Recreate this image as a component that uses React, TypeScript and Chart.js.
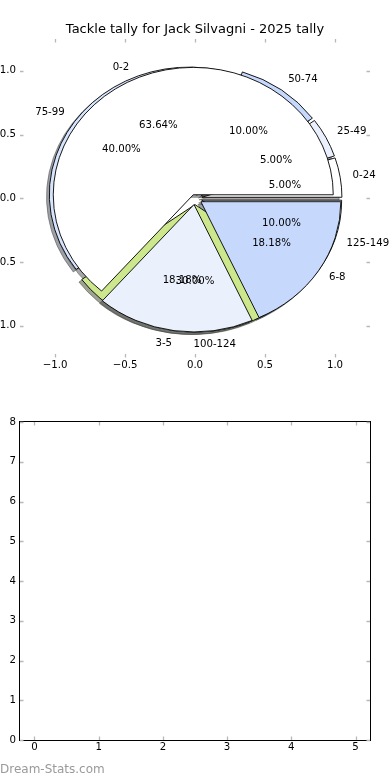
import React, { useEffect, useRef } from "react";
import { Chart, registerables } from "chart.js";

Chart.register(...registerables);

const FONT = "'DejaVu Sans', sans-serif";

const TITLE = "Tackle tally for Jack Silvagni - 2025 tally";
const WATERMARK = "Dream-Stats.com";

// Inner pie (drawn on top)
const INNER_LABELS = ["0-2", "3-5", "6-8"];
const INNER_VALUES = [7, 2, 2];

// Outer pie (drawn beneath)
const OUTER_LABELS = ["0-24", "25-49", "50-74", "75-99", "100-124", "125-149"];
const OUTER_VALUES = [1, 1, 2, 8, 6, 2];

// Tick labels
const PIE_X_TICKS = [-1, -0.5, 0, 0.5, 1];
const PIE_Y_TICKS = [-1, -0.5, 0, 0.5, 1];
const EMPTY_X_TICKS = [0, 1, 2, 3, 4, 5];
const EMPTY_Y_TICKS = [0, 1, 2, 3, 4, 5, 6, 7, 8];

// Styling
const INNER_EXPLODE = [0.03, 0.05, 0.05];
const OUTER_EXPLODE = [0.05, 0.05, 0.05, 0.05, 0.05, 0.05];
const INNER_COLORS = ["#ffffff", "#eaf1fd", "#c6d9fd"];
const OUTER_COLORS = ["#ffffff", "#eaf1fd", "#c6d9fd", "#d6e4fd", "#cde88c", "#ffffff"];

type Wedge = {
  cx: number;
  cy: number;
  a1: number;
  a2: number;
  am: number;
  color: string;
  label: string;
  pct: string;
};

function buildWedges(labels: string[], values: number[], explode: number[], colors: string[]): Wedge[] {
  const total = values.reduce((s, v) => s + v, 0);
  const out: Wedge[] = [];
  let theta1 = 0;
  values.forEach((v, i) => {
    const frac = v / total;
    const theta2 = theta1 + frac;
    const am = 2 * Math.PI * 0.5 * (theta1 + theta2);
    out.push({
      cx: explode[i] * Math.cos(am),
      cy: explode[i] * Math.sin(am),
      a1: 2 * Math.PI * theta1,
      a2: 2 * Math.PI * theta2,
      am,
      color: colors[i % colors.length],
      label: labels[i],
      pct: (100 * frac).toFixed(2) + "%",
    });
    theta1 = theta2;
  });
  return out;
}

function hexToRgb(h: string) {
  const n = parseInt(h.slice(1), 16);
  return [(n >> 16) & 255, (n >> 8) & 255, n & 255];
}

const piePlugin = {
  id: "twoPies",
  afterDraw(chart: any) {
    const { ctx, scales } = chart;
    const xs = scales.x;
    const ys = scales.y;
    const ux = xs.getPixelForValue(1) - xs.getPixelForValue(0);
    const uy = ys.getPixelForValue(0) - ys.getPixelForValue(1);
    const wedges = [
      ...buildWedges(OUTER_LABELS, OUTER_VALUES, OUTER_EXPLODE, OUTER_COLORS),
      ...buildWedges(INNER_LABELS, INNER_VALUES, INNER_EXPLODE, INNER_COLORS),
    ];
    const path = (w: Wedge, ox: number, oy: number) => {
      const px = xs.getPixelForValue(w.cx + ox);
      const py = ys.getPixelForValue(w.cy + oy);
      ctx.beginPath();
      ctx.moveTo(px, py);
      ctx.ellipse(px, py, ux, uy, 0, -w.a1, -w.a2, true);
      ctx.closePath();
    };
    ctx.save();
    // shadows
    ctx.lineWidth = 1;
    wedges.forEach((w) => {
      const [r, g, b] = hexToRgb(w.color);
      const c = `rgba(${Math.round(r * 0.3)},${Math.round(g * 0.3)},${Math.round(b * 0.3)},0.5)`;
      path(w, -0.02, -0.02);
      ctx.fillStyle = c;
      ctx.strokeStyle = c;
      ctx.fill();
      ctx.stroke();
    });
    // wedges
    ctx.lineWidth = 0.9;
    ctx.strokeStyle = "#000000";
    wedges.forEach((w) => {
      path(w, 0, 0);
      ctx.fillStyle = w.color;
      ctx.fill();
      ctx.stroke();
    });
    // texts
    ctx.fillStyle = "#000000";
    ctx.font = `10.2px ${FONT}`;
    ctx.textBaseline = "middle";
    wedges.forEach((w) => {
      const xt = w.cx + 1.1 * Math.cos(w.am);
      const yt = w.cy + 1.1 * Math.sin(w.am);
      ctx.textAlign = xt > 0 ? "left" : "right";
      ctx.fillText(w.label, xs.getPixelForValue(xt) - (xt > 0 ? 1.5 : 0), ys.getPixelForValue(yt));
      const xp = w.cx + 0.6 * Math.cos(w.am);
      const yp = w.cy + 0.6 * Math.sin(w.am);
      ctx.textAlign = "center";
      ctx.fillText(w.pct, xs.getPixelForValue(xp), ys.getPixelForValue(yp));
    });
    ctx.restore();
  },
};

const axesPlugin = {
  id: "inwardTicks",
  afterDraw(chart: any, _args: any, opts: any) {
    const { ctx, chartArea: a, scales } = chart;
    ctx.save();
    if (opts && opts.frame) {
      ctx.strokeStyle = "#000000";
      ctx.lineWidth = 1;
      ctx.strokeRect(a.left - 0.5, a.top - 0.5, a.right - a.left + 1, a.bottom - a.top + 1);
    }
    const L = 3.5;
    ctx.strokeStyle = "#b8b8b8";
    ctx.lineWidth = 1.3;
    ctx.beginPath();
    scales.x.ticks.forEach((t: any) => {
      const p = Math.round(scales.x.getPixelForValue(t.value)) + 0.5;
      ctx.moveTo(p, a.top);
      ctx.lineTo(p, a.top + L);
      ctx.moveTo(p, a.bottom);
      ctx.lineTo(p, a.bottom - L);
    });
    scales.y.ticks.forEach((t: any) => {
      const p = Math.round(scales.y.getPixelForValue(t.value)) + 0.5;
      ctx.moveTo(a.left, p);
      ctx.lineTo(a.left + L, p);
      ctx.moveTo(a.right, p);
      ctx.lineTo(a.right - L, p);
    });
    ctx.stroke();
    ctx.restore();
  },
};

const fmtSigned = (v: number) => (v < 0 ? "\u2212" + Math.abs(v).toFixed(1) : v.toFixed(1));

function zeroPad(s: any) {
  s.paddingLeft = 0;
  s.paddingRight = 0;
  s.paddingTop = 0;
  s.paddingBottom = 0;
}

export default function App() {
  const topRef = useRef<HTMLCanvasElement>(null);
  const botRef = useRef<HTMLCanvasElement>(null);

  useEffect(() => {
    Chart.defaults.font.family = FONT;
    const tickFont = { family: FONT, size: 10.2 };
    const top = new Chart(topRef.current as HTMLCanvasElement, {
      type: "scatter",
      data: { datasets: [] },
      plugins: [piePlugin, axesPlugin],
      options: {
        animation: false,
        responsive: false,
        devicePixelRatio: 1,
        events: [],
        layout: { padding: { left: 0, right: 20, top: 0, bottom: 0 } },
        plugins: {
          legend: { display: false },
          tooltip: { enabled: false },
          title: {
            display: true,
            text: TITLE,
            color: "#000000",
            fullSize: false,
            font: { family: FONT, size: 13, weight: "normal", lineHeight: 1.2 },
            padding: { top: 22.2, bottom: 1.2 },
          },
          inwardTicks: { frame: false },
        } as any,
        scales: {
          x: {
            type: "linear",
            min: -1.25,
            max: 1.25,
            afterBuildTicks: (s: any) => {
              s.ticks = PIE_X_TICKS.map((v) => ({ value: v }));
            },
            afterFit: (s: any) => {
              s.height = 32.5;
              zeroPad(s);
            },
            ticks: {
              callback: (v: any) => fmtSigned(Number(v)),
              color: "#000000",
              font: tickFont,
              padding: 1.5,
              autoSkip: false,
              maxRotation: 0,
            },
            grid: { display: false, drawTicks: false },
            border: { display: false },
          },
          y: {
            type: "linear",
            min: -1.25,
            max: 1.25,
            afterBuildTicks: (s: any) => {
              s.ticks = PIE_Y_TICKS.map((v) => ({ value: v }));
            },
            afterFit: (s: any) => {
              s.width = 50;
              zeroPad(s);
            },
            ticks: {
              callback: (v: any) => fmtSigned(Number(v)),
              color: "#000000",
              font: tickFont,
              padding: 4,
              autoSkip: false,
            },
            grid: { display: false, drawTicks: false },
            border: { display: false },
          },
        },
      } as any,
    });

    const bottom = new Chart(botRef.current as HTMLCanvasElement, {
      type: "scatter",
      data: { datasets: [] },
      plugins: [axesPlugin],
      options: {
        animation: false,
        responsive: false,
        devicePixelRatio: 1,
        events: [],
        layout: { padding: { left: 0, right: 20, top: 32, bottom: 0 } },
        plugins: {
          legend: { display: false },
          tooltip: { enabled: false },
          title: { display: false },
          inwardTicks: { frame: true },
        } as any,
        scales: {
          x: {
            type: "linear",
            min: -0.225,
            max: 5.225,
            afterBuildTicks: (s: any) => {
              s.ticks = EMPTY_X_TICKS.map((v) => ({ value: v }));
            },
            afterFit: (s: any) => {
              s.height = 40;
              zeroPad(s);
            },
            ticks: {
              callback: (v: any) => String(v),
              color: "#000000",
              font: tickFont,
              padding: 1.5,
              autoSkip: false,
              maxRotation: 0,
            },
            grid: { display: false, drawTicks: false },
            border: { display: false },
          },
          y: {
            type: "linear",
            min: 0,
            max: 8,
            afterBuildTicks: (s: any) => {
              s.ticks = EMPTY_Y_TICKS.map((v) => ({ value: v }));
            },
            afterFit: (s: any) => {
              s.width = 50;
              zeroPad(s);
            },
            ticks: {
              callback: (v: any) => String(v),
              color: "#000000",
              font: tickFont,
              padding: 4,
              autoSkip: false,
            },
            grid: { display: false, drawTicks: false },
            border: { display: false },
          },
        },
      } as any,
    });

    return () => {
      top.destroy();
      bottom.destroy();
    };
  }, []);

  return (
    <div
      style={{
        position: "absolute",
        left: 0,
        top: 0,
        width: 390,
        height: 780,
        overflow: "hidden",
        background: "#ffffff",
      }}
    >
      <canvas
        ref={topRef}
        width={420}
        height={390}
        style={{ position: "absolute", left: -30, top: 0, width: 420, height: 390 }}
      />
      <canvas
        ref={botRef}
        width={420}
        height={390}
        style={{ position: "absolute", left: -30, top: 390, width: 420, height: 390 }}
      />
      <div
        style={{
          position: "absolute",
          left: 0,
          top: 763,
          fontFamily: FONT,
          fontSize: 12,
          lineHeight: "12px",
          color: "#9a9a9a",
          whiteSpace: "nowrap",
        }}
      >
        {WATERMARK}
      </div>
    </div>
  );
}
